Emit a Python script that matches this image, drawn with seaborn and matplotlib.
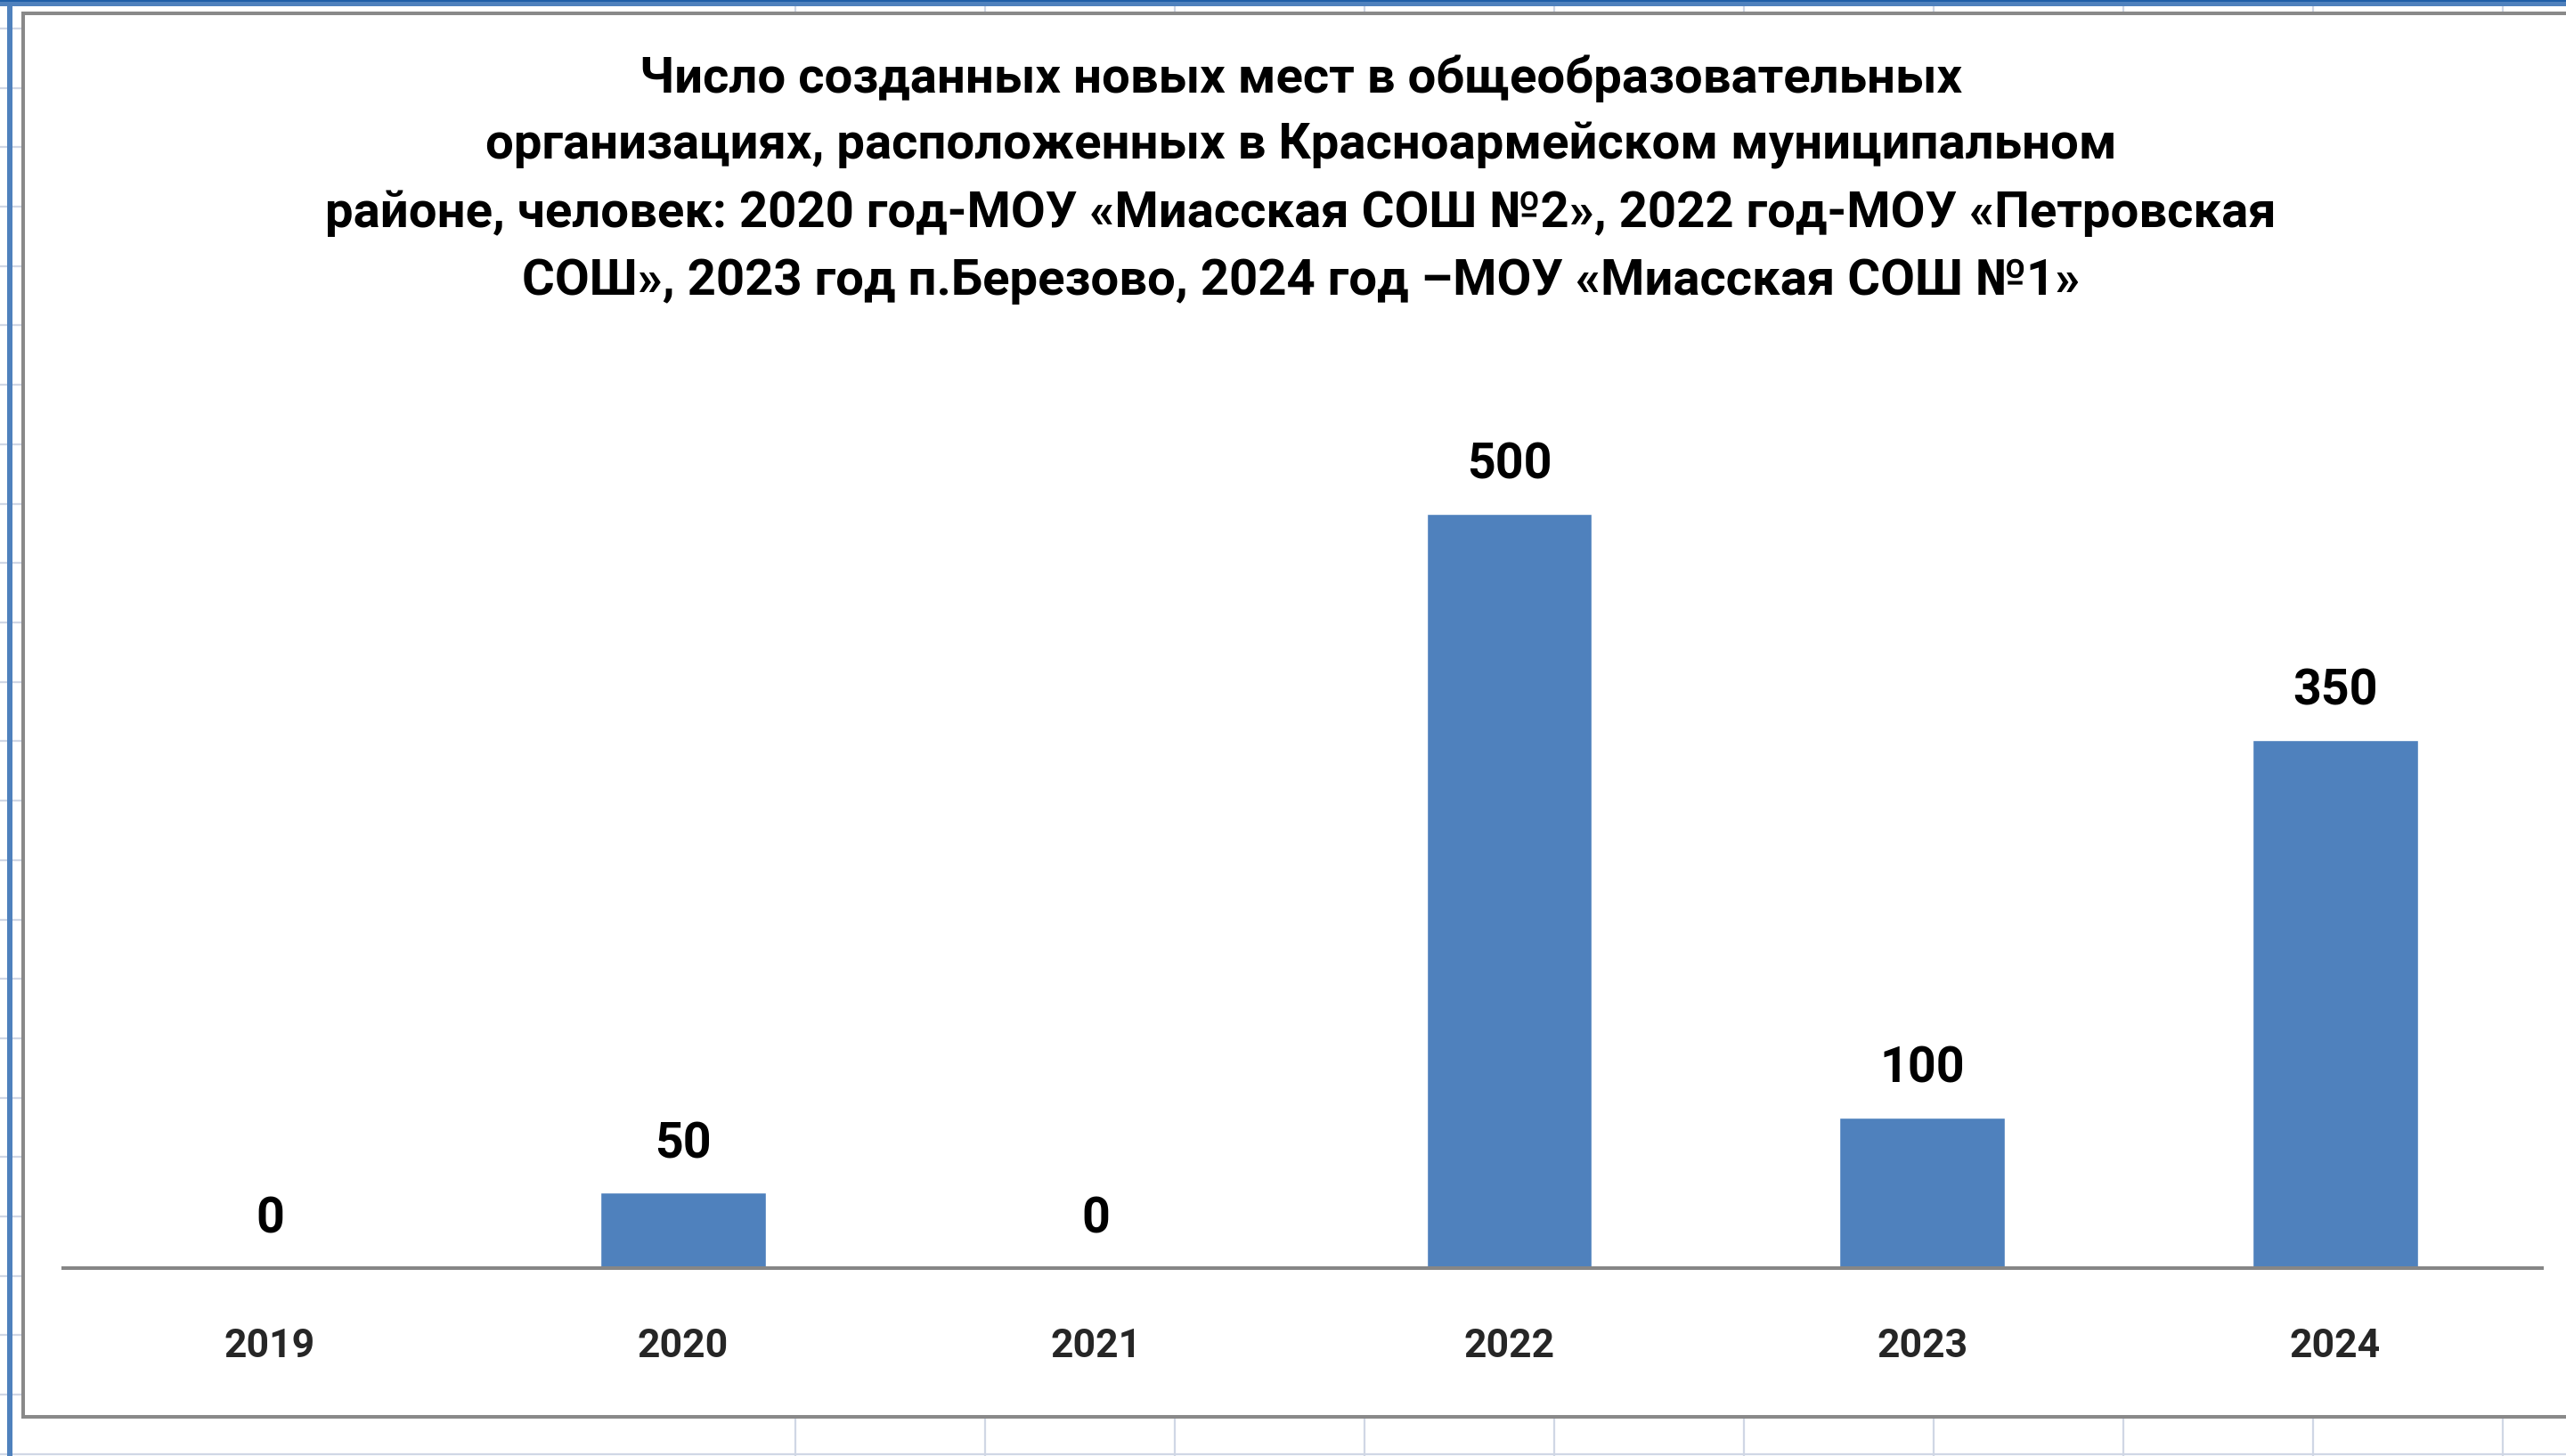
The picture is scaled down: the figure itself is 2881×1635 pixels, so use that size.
import matplotlib as mpl
mpl.use('Agg')
import matplotlib.pyplot as plt
from matplotlib.lines import Line2D
from matplotlib.patches import Rectangle
import seaborn as sns
import pandas as pd

years = ['2019', '2020', '2021', '2022', '2023', '2024']
places = [0, 50, 0, 500, 100, 350]
title_lines = [
    'Число созданных новых мест в общеобразовательных',
    'организациях, расположенных в Красноармейском муниципальном',
    'районе, человек: 2020 год-МОУ «Миасская СОШ №2», 2022 год-МОУ «Петровская',
    'СОШ», 2023 год п.Березово, 2024 год –МОУ «Миасская СОШ №1»',
]

W, H = 2881, 1635
BAR = '#4F81BD'
GRID = '#D0D7E5'
FRAME = '#898989'

sns.set_style('white')
plt.rcParams['font.family'] = ['Roboto', 'DejaVu Sans']

df = pd.DataFrame({'year': years, 'places': places})

fig = plt.figure(figsize=(W / 100, H / 100), dpi=100)
fig.patch.set_facecolor('white')


def fx(x):
    return x / W


def fy(y):
    return 1 - y / H


# spreadsheet cells behind the chart object
for x in range(893, W, 213):
    fig.add_artist(Line2D([fx(x), fx(x)], [0, 1], color=GRID, lw=1.6, zorder=0))
y = 32.0
while y < H:
    fig.add_artist(Line2D([0, 1], [fy(y), fy(y)], color=GRID, lw=1.6, zorder=0))
    y += 66.7

# chart area with grey frame (right edge runs off the screenshot)
fig.add_artist(Rectangle((fx(26), fy(1591)), 1.0, fy(15) - fy(1591),
                         transform=fig.transFigure, facecolor='white',
                         edgecolor=FRAME, lw=2.9, zorder=1))

# blue window border on the left and top
fig.add_artist(Rectangle((fx(8), 0), fx(6), 1, transform=fig.transFigure,
                         color=BAR, lw=0, zorder=3))
fig.add_artist(Rectangle((0, fy(7)), 1, 7 / H, transform=fig.transFigure,
                         color=BAR, lw=0, zorder=3))
fig.add_artist(Rectangle((0, fy(2)), 1, 2 / H, transform=fig.transFigure,
                         color='#1F5FA8', lw=0, zorder=3))

ax = fig.add_axes([fx(71), fy(1424), fx(2854) - fx(71), (1424 - 480) / H])
ax.set_zorder(2)
ax.patch.set_visible(False)

sns.barplot(data=df, x='year', y='places', color=BAR, saturation=1,
            width=0.4, ax=ax)

ax.set_xlim(-0.5, len(years) - 0.5)
ax.set_ylim(0, 557)
ax.set_yticks([])
ax.set_xlabel('')
ax.set_ylabel('')
sns.despine(ax=ax, left=True)
ax.spines['bottom'].set_color('#868686')
ax.spines['bottom'].set_linewidth(2.9)
ax.tick_params(axis='x', length=0, pad=48, labelsize=32)
for lbl in ax.get_xticklabels():
    lbl.set_fontweight('bold')

for patch, v in zip(ax.patches, places):
    ax.annotate(f'{v}', (patch.get_x() + patch.get_width() / 2, patch.get_height()),
                xytext=(0, 39), textcoords='offset points', ha='center',
                va='center', fontsize=40, fontweight='bold', color='black')

for i, line in enumerate(title_lines):
    fig.text(0.507, fy(88 + 76 * i), line, ha='center', va='center',
             fontsize=40.5, fontweight='bold', color='black', zorder=4)

fig.savefig('out.png', dpi=100)
